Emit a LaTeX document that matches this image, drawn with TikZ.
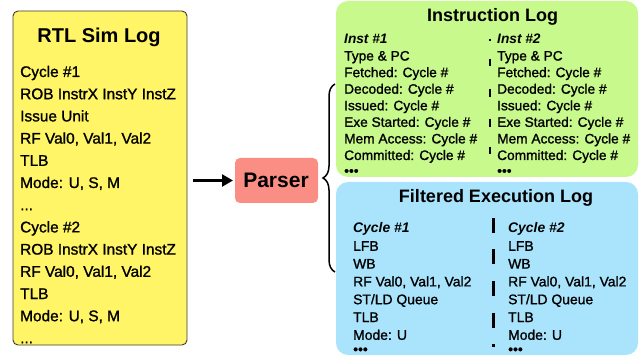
\documentclass[tikz,border=0pt]{standalone}
\usepackage{fontspec}
\setmainfont{Liberation Sans}
\newfontface\medfont{Liberation Sans}[FakeBold=1.2]
\usetikzlibrary{arrows.meta,decorations.pathreplacing}
\definecolor{ylw}{RGB}{255,245,102}
\definecolor{ylwedge}{RGB}{60,60,50}
\definecolor{grn}{RGB}{200,249,141}
\definecolor{blu}{RGB}{170,228,252}
\definecolor{slmn}{RGB}{250,142,132}
\newcommand\mydots{...}
\begin{document}
\begin{tikzpicture}[x=1pt,y=-1pt,
  box/.style={inner sep=0pt, outer sep=0pt},
  ybody/.style={anchor=base west, inner sep=0pt, font=\medfont\fontsize{15.4}{18}\selectfont},
  gbody/.style={anchor=base west, inner sep=0pt, font=\medfont\fontsize{13.7}{16}\selectfont},
  bbody/.style={anchor=base west, inner sep=0pt, font=\medfont\fontsize{13.9}{16}\selectfont},
  ghead/.style={gbody, font=\bfseries\itshape\fontsize{13.7}{16}\selectfont},
  bhead/.style={bbody, font=\bfseries\itshape\fontsize{13.9}{16}\selectfont},
  title/.style={anchor=base, inner sep=0pt, font=\bfseries\fontsize{18}{22}\selectfont},
  sep/.style={line width=2.8pt}
]
\useasboundingbox (0,0) rectangle (640,358);
% boxes
\node[box, draw=ylwedge, line width=0.9pt, fill=ylw, rounded corners=5pt,
  minimum width=174, minimum height=334] (rtl) at (100,178) {};
\node[box, fill=slmn, rounded corners=5pt, minimum width=83, minimum height=45] (parser) at (276.5,180.5) {};
\node[box, fill=grn, rounded corners=12pt, minimum width=302, minimum height=176] (ilog) at (487,89) {};
\node[box, fill=blu, rounded corners=12pt, minimum width=302, minimum height=173] (flog) at (487,268.5) {};
% titles
\node[title, font=\bfseries\fontsize{20}{24}\selectfont] (rtlt) at (99,43) {RTL Sim Log};
\node[anchor=base, inner sep=0pt, font=\bfseries\fontsize{21}{25}\selectfont] (parsert) at (276,188) {Parser};
\node[title] (ilogt) at (492.5,22) {Instruction Log};
\node[title] (flogt) at (496,203) {Filtered Execution Log};
% RTL sim log lines
\foreach \t [count=\i from 0] in {Cycle \#1, ROB InstrX InstY InstZ, Issue Unit, {RF Val0, Val1, Val2}, TLB, {Mode: U, S, M}, \mydots, Cycle \#2, ROB InstrX InstY InstZ, {RF Val0, Val1, Val2}, TLB, {Mode: U, S, M}, \mydots}
  \node[ybody] (y\i) at (20,77+22.2*\i) {\t};
% instruction log
\node[ghead] (ia0) at (344,44) {Inst \#1};
\node[ghead] (ib0) at (497,44) {Inst \#2};
\foreach \t [count=\i] in {Type \& PC, Fetched: Cycle \#, Decoded: Cycle \#, Issued: Cycle \#, Exe Started: Cycle \#, Mem Access: Cycle \#, Committed: Cycle \#}{
  \node[gbody] (ia\i) at (344,44+16.57*\i) {\t};
  \node[gbody] (ib\i) at (497,44+16.57*\i) {\t};
}
\node[gbody] (iad) at (344,175.5) {•••};
\node[gbody] (ibd) at (497,175.5) {•••};
\draw[sep, dash pattern=on 2pt off 18pt on 7pt off 23pt on 8pt off 22pt on 8pt off 20pt on 7pt off 40pt] (490,39) coordinate (ds1) -- (490,154) coordinate (ds2);
% filtered execution log
\node[bhead] (fa0) at (353,233) {Cycle \#1};
\node[bhead] (fb0) at (508,233) {Cycle \#2};
\foreach \t [count=\i] in {LFB, WB, {RF Val0, Val1, Val2}, ST/LD Queue, TLB, Mode: U}{
  \node[bbody] (fa\i) at (353,233+17.8*\i) {\t};
  \node[bbody] (fb\i) at (508,233+17.8*\i) {\t};
}
\node[bbody] (fad) at (353,354) {•••};
\node[bbody] (fbd) at (508,354) {•••};
\draw[sep, dash pattern=on 15pt off 16.5pt] (493.5,218) coordinate (fs1) -- (493.5,347) coordinate (fs2);
% arrow and brace
\draw[line width=2.4pt, -{Triangle[length=11pt,width=12pt]}, shorten <=6pt, shorten >=2pt]
  (rtl.east |- parser.west) -- (parser.west);
\coordinate (bt) at (335,84);
\coordinate (bb) at (335,272);
\draw[line width=1.5pt, decorate, decoration={brace, amplitude=12pt}] (bb) -- (bt);
\end{tikzpicture}
\end{document}
